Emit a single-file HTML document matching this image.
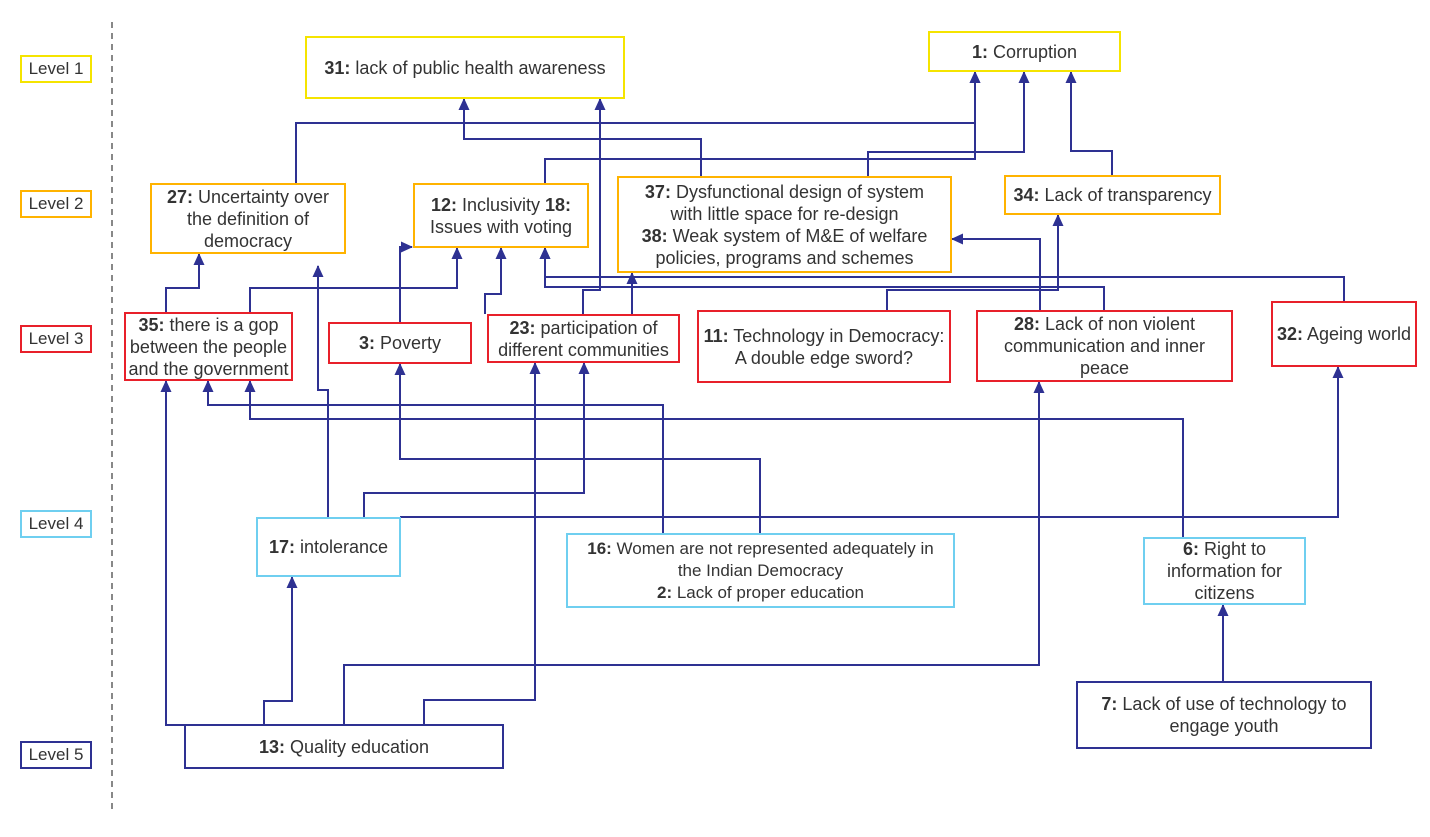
<!DOCTYPE html>
<html><head><meta charset="utf-8"><style>
body{margin:0;width:1430px;height:837px;background:#fff;position:relative;overflow:hidden;font-family:"Liberation Sans",Arial,sans-serif;}
.b{position:absolute;box-sizing:border-box;border:2px solid;background:#fff;display:flex;align-items:center;justify-content:center;text-align:center;font-size:18px;line-height:22px;color:#333;white-space:nowrap;padding:0;}
.lv{font-size:17px}
.y{border-color:#f5e400}.o{border-color:#ffb300}.r{border-color:#e8202a}.l{border-color:#6fcff0}.n{border-color:#2e3192}
svg{position:absolute;left:0;top:0}
</style></head><body>
<svg width="1430" height="837">
<defs><marker id="a" markerWidth="12" markerHeight="12" refX="11" refY="6" orient="auto" markerUnits="userSpaceOnUse"><path d="M0,0.5 L12,6 L0,11.5 z" fill="#2e3192"/></marker></defs>
<line x1="112" y1="22" x2="112" y2="810" stroke="#888" stroke-width="2" stroke-dasharray="6,5"/>
<g fill="none" stroke="#2e3192" stroke-width="2" marker-end="url(#a)">
<polyline points="296,183 296,123 975,123 975,72"/>
<polyline points="545,183 545,159 975,159 975,72"/>
<polyline points="701,176 701,139 464,139 464,99"/>
<polyline points="868,176 868,152 1024,152 1024,72"/>
<polyline points="1112,175 1112,151 1071,151 1071,72"/>
<polyline points="583,314 583,290 600,290 600,99"/>
<polyline points="632,314 632,273"/>
<polyline points="1040,310 1040,239 952,239"/>
<polyline points="887,310 887,290 1058,290 1058,215"/>
<polyline points="1104,310 1104,287 545,287 545,248"/>
<polyline points="1344,301 1344,277 545,277 545,248"/>
<polyline points="166,312 166,288 199,288 199,254"/>
<polyline points="250,312 250,288 457,288 457,248"/>
<polyline points="485,314 485,294 501,294 501,248"/>
<polyline points="400,322 400,247 412,247"/>
<polyline points="328,517 328,390 318,390 318,266"/>
<polyline points="663,533 663,405 208,405 208,381"/>
<polyline points="1183,537 1183,419 250,419 250,381"/>
<polyline points="184,725 166,725 166,381"/>
<polyline points="364,517 364,493 584,493 584,363"/>
<polyline points="760,533 760,459 400,459 400,364"/>
<polyline points="424,724 424,700 535,700 535,363"/>
<polyline points="344,724 344,665 1039,665 1039,382"/>
<polyline points="400,517 1338,517 1338,367"/>
<polyline points="264,724 264,701 292,701 292,577"/>
<polyline points="1223,681 1223,605"/>
</g>
</svg>
<div class="b y lv" style="left:20px;top:55px;width:72px;height:28px">Level 1</div>
<div class="b o lv" style="left:20px;top:190px;width:72px;height:28px">Level 2</div>
<div class="b r lv" style="left:20px;top:325px;width:72px;height:28px">Level 3</div>
<div class="b l lv" style="left:20px;top:510px;width:72px;height:28px">Level 4</div>
<div class="b n lv" style="left:20px;top:741px;width:72px;height:28px">Level 5</div>

<div class="b y" style="left:305px;top:36px;width:320px;height:63px"><span><b>31:</b> lack of public health awareness</span></div>
<div class="b y" style="left:928px;top:31px;width:193px;height:41px"><span><b>1:</b> Corruption</span></div>
<div class="b o" style="left:150px;top:183px;width:196px;height:71px"><span><b>27:</b> Uncertainty over<br>the definition of<br>democracy</span></div>
<div class="b o" style="left:413px;top:183px;width:176px;height:65px"><span><b>12:</b> Inclusivity <b>18:</b><br>Issues with voting</span></div>
<div class="b o" style="left:617px;top:176px;width:335px;height:97px"><span><b>37:</b> Dysfunctional design of system<br>with little space for re-design<br><b>38:</b> Weak system of M&amp;E of welfare<br>policies, programs and schemes</span></div>
<div class="b o" style="left:1004px;top:175px;width:217px;height:40px"><span><b>34:</b> Lack of transparency</span></div>
<div class="b r" style="left:124px;top:312px;width:169px;height:69px"><span><b>35:</b> there is a gop<br>between the people<br>and the government</span></div>
<div class="b r" style="left:328px;top:322px;width:144px;height:42px"><span><b>3:</b> Poverty</span></div>
<div class="b r" style="left:487px;top:314px;width:193px;height:49px"><span><b>23:</b> participation of<br>different communities</span></div>
<div class="b r" style="left:697px;top:310px;width:254px;height:73px"><span><b>11:</b> Technology in Democracy:<br>A double edge sword?</span></div>
<div class="b r" style="left:976px;top:310px;width:257px;height:72px"><span><b>28:</b> Lack of non violent<br>communication and inner<br>peace</span></div>
<div class="b r" style="left:1271px;top:301px;width:146px;height:66px"><span><b>32:</b> Ageing world</span></div>
<div class="b l" style="left:256px;top:517px;width:145px;height:60px"><span><b>17:</b> intolerance</span></div>
<div class="b l" style="left:566px;top:533px;width:389px;height:75px;font-size:17px"><span><b>16:</b> Women are not represented adequately in<br>the Indian Democracy<br><b>2:</b> Lack of proper education</span></div>
<div class="b l" style="left:1143px;top:537px;width:163px;height:68px"><span><b>6:</b> Right to<br>information for<br>citizens</span></div>
<div class="b n" style="left:1076px;top:681px;width:296px;height:68px"><span><b>7:</b> Lack of use of technology to<br>engage youth</span></div>
<div class="b n" style="left:184px;top:724px;width:320px;height:45px"><span><b>13:</b> Quality education</span></div>
</body></html>
